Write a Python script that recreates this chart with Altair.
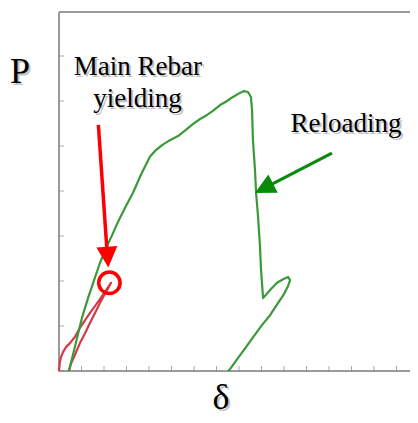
import altair as alt
import pandas as pd

# ---- data (x in tick units of delta, y in tick units of P) ----
green_x = [0.44, 0.62, 0.80, 1.02, 1.29, 1.56, 1.82, 2.09, 2.36, 2.62, 2.93, 3.29, 3.64, 4.04, 4.27,
           4.58, 4.93, 5.29, 5.64, 5.96, 6.27, 6.58, 6.84, 7.16, 7.47, 7.73, 8.04, 8.22, 8.40, 8.53,
           8.58, 8.62, 8.71, 8.76, 8.84, 8.93, 8.98, 9.07, 9.16, 9.38, 9.69, 9.96, 10.18, 10.27,
           10.18, 10.00, 9.73, 9.38, 9.02, 8.67, 8.31, 7.96, 7.60, 7.51]
green_y = [0.00, 0.36, 0.73, 1.18, 1.62, 2.02, 2.40, 2.73, 3.02, 3.31, 3.62, 3.96, 4.36, 4.76, 4.89,
           5.02, 5.13, 5.22, 5.36, 5.49, 5.60, 5.69, 5.78, 5.91, 6.00, 6.09, 6.18, 6.22, 6.20, 6.09,
           5.80, 5.13, 4.47, 3.96, 3.47, 2.80, 2.24, 1.62, 1.67, 1.80, 1.96, 2.04, 2.09, 2.02,
           1.89, 1.71, 1.51, 1.24, 1.02, 0.78, 0.53, 0.29, 0.04, 0.00]

red_x = [0.00, 0.04, 0.09, 0.18, 0.31, 0.49, 0.71, 0.93, 1.16, 1.38, 1.60, 1.82, 2.04, 2.22, 2.31,
         2.22, 2.04, 1.82, 1.60, 1.38, 1.16, 0.93, 0.71, 0.53, 0.44]
red_y = [0.00, 0.20, 0.31, 0.42, 0.53, 0.62, 0.76, 0.96, 1.13, 1.29, 1.44, 1.60, 1.76, 1.89, 1.96,
         1.87, 1.71, 1.51, 1.29, 1.07, 0.84, 0.62, 0.36, 0.16, 0.00]

x_ticks = list(range(16))
y_ticks = list(range(8))

labels = ["Main Rebar", "yielding", "Reloading"]
label_x = [3.51, 3.49, 12.76]
label_y = [6.58, 5.87, 5.31]

axis_titles = ["P", "δ"]
axis_title_x = [-1.73, 7.2]
axis_title_y = [6.40, -0.84]

# annotation geometry (data units)
red_arrow = {"x": 1.75, "y": 5.47, "x2": 2.13, "y2": 2.69}
red_head = {"x": 2.16, "y": 2.53}
red_ring = {"x": 2.24, "y": 1.96}
green_arrow = {"x": 12.13, "y": 4.84, "x2": 9.38, "y2": 4.13}
green_head = {"x": 9.11, "y": 4.06}

W, H = 351, 359
XD = [0, W / 22.5]
YD = [0, H / 45]
FONT = "Liberation Serif"
FRAME = "#9a9a9a"

xs = alt.Scale(domain=XD, nice=False, zero=False)
ys = alt.Scale(domain=YD, nice=False, zero=False)
X = lambda f="x": alt.X(f"{f}:Q", scale=xs, axis=None)
Y = lambda f="y": alt.Y(f"{f}:Q", scale=ys, axis=None)

gdf = pd.DataFrame({"x": green_x, "y": green_y, "o": range(len(green_x))})
rdf = pd.DataFrame({"x": red_x, "y": red_y, "o": range(len(red_x))})

# frame: left, bottom, top
frame_df = pd.DataFrame({
    "x": [0, 0, 0], "x2": [0, XD[1], XD[1]],
    "y": [0, 0, YD[1]], "y2": [YD[1], 0, YD[1]],
})
frame = alt.Chart(frame_df).mark_rule(color=FRAME, strokeWidth=2).encode(
    x=X(), y=Y(), x2="x2:Q", y2="y2:Q")

green = alt.Chart(gdf).mark_line(color="#3a9a3a", strokeWidth=2.2, strokeJoin="round").encode(
    x=X(), y=Y(), order="o:Q")
red = alt.Chart(rdf).mark_line(color="#d43a4a", strokeWidth=2.2, strokeJoin="round").encode(
    x=X(), y=Y(), order="o:Q")

xt = alt.Chart(pd.DataFrame({"x": x_ticks, "y": [0] * len(x_ticks)})).mark_tick(
    color="#888", thickness=1, size=6, orient="vertical", yOffset=-2).encode(x=X(), y=Y())
yt = alt.Chart(pd.DataFrame({"y": y_ticks, "x": [0] * len(y_ticks)})).mark_tick(
    color="#888", thickness=1, size=6, orient="horizontal", xOffset=2).encode(x=X(), y=Y())

ldf = pd.DataFrame({"t": labels, "x": label_x, "y": label_y})
adf = pd.DataFrame({"t": axis_titles, "x": axis_title_x, "y": axis_title_y})

def texts(df, size):
    sh = alt.Chart(df).mark_text(font=FONT, fontSize=size, color="#c4c4c4", dx=2, dy=2,
                                 align="center", baseline="alphabetic").encode(x=X(), y=Y(), text="t:N")
    tx = alt.Chart(df).mark_text(font=FONT, fontSize=size, color="#000000",
                                 align="center", baseline="alphabetic").encode(x=X(), y=Y(), text="t:N")
    return sh + tx

rl = alt.Chart(pd.DataFrame([red_arrow])).mark_rule(color="#ff0000", strokeWidth=3.5).encode(
    x=X(), y=Y(), x2="x2:Q", y2="y2:Q")
rh = alt.Chart(pd.DataFrame([red_head])).mark_point(
    shape="M0,-1L-1,1L1,1Z", filled=True, opacity=1, color="#ff0000", size=441, angle=176).encode(x=X(), y=Y())
rr = alt.Chart(pd.DataFrame([red_ring])).mark_point(
    shape="circle", filled=False, opacity=1, color="#ff0000", strokeWidth=3.5, size=458).encode(x=X(), y=Y())
gl = alt.Chart(pd.DataFrame([green_arrow])).mark_rule(color="#0a8a0a", strokeWidth=3.2).encode(
    x=X(), y=Y(), x2="x2:Q", y2="y2:Q")
gh = alt.Chart(pd.DataFrame([green_head])).mark_point(
    shape="M0,-1L-1,1L1,1Z", filled=True, opacity=1, color="#0a8a0a", size=420, angle=242.5).encode(x=X(), y=Y())

chart = alt.layer(
    frame, xt, yt, red, green, rl, rh, rr, gl, gh, texts(ldf, 27), texts(adf, 36)
).properties(
    width=W, height=H,
    autosize=alt.AutoSizeParams(type="none"),
    padding={"left": 51, "top": 4, "right": 0, "bottom": 42},
).configure_view(strokeWidth=0)

chart.save("out.html", embed_options={"renderer": "svg", "actions": False})
